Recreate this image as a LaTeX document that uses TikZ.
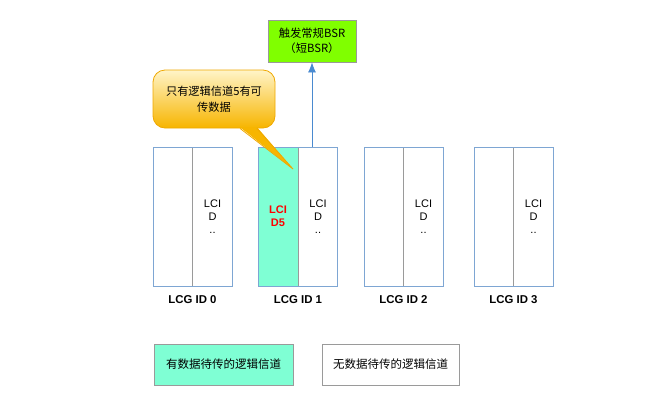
\documentclass[tikz,border=0pt]{standalone}
\usepackage{fontspec}
\setmainfont{Liberation Sans}
\newfontfamily\cjk{Noto Sans CJK SC}
\usetikzlibrary{arrows.meta,calc}
\definecolor{aqua}{HTML}{7FFFD4}
\definecolor{lime}{HTML}{80FF00}
\definecolor{boxblue}{HTML}{7EA6D3}
\definecolor{divgray}{HTML}{9A9A9A}
\definecolor{arrblue}{HTML}{4A8AD0}
\definecolor{calltop}{HTML}{FFF4C8}
\definecolor{callbot}{HTML}{F7B500}
\definecolor{callborder}{HTML}{EFA800}
\tikzset{
  lcgbox/.style={draw=boxblue, line width=0.8pt, minimum width=79pt, minimum height=139pt, inner sep=0pt,
    path picture={\draw[divgray, line width=0.8pt] (path picture bounding box.north) -- (path picture bounding box.south);}},
  lcgact/.style={lcgbox, path picture={
    \fill[aqua] (path picture bounding box.north west) rectangle (path picture bounding box.south);
    \draw[divgray, line width=0.8pt] (path picture bounding box.north) -- (path picture bounding box.south);}},
  lcitext/.style={align=center, font=\fontsize{11}{13}\selectfont, inner sep=0pt},
  lcglabel/.style={font=\bfseries\fontsize{11.4}{13}\selectfont, inner sep=0pt},
  legendbox/.style={draw=divgray, line width=0.8pt, minimum height=41pt, inner sep=0pt, font=\cjk\fontsize{11.5}{14}\selectfont},
}
\begin{document}
\begin{tikzpicture}[x=1pt,y=-1pt]
\useasboundingbox (0,0) rectangle (650,405);
% top box
\node[draw=divgray, fill=lime, line width=0.8pt, minimum width=88pt, minimum height=42pt, inner sep=0pt, align=center,
  font=\cjk\fontsize{11.3}{15}\selectfont] (bsr) at (312,41) {触发常规BSR\\（短BSR）};
% LCG boxes
\node[lcgbox] (b0) at (192.5,216.5) {};
\node[lcgact] (b1) at (298,216.5) {};
\node[lcgbox] (b2) at (403.5,216.5) {};
\node[lcgbox] (b3) at (513.5,216.5) {};
\foreach \i in {0,1,2,3}{
  \node[lcitext] (t\i) at ($(b\i.center)+(20,0)$) {LCI\\D\\..};
  \node[lcglabel] (l\i) at ($(b\i.south)+(0,13)$) {LCG ID \i};
}
\node[lcitext, text=red, font=\bfseries\fontsize{11}{13}\selectfont] (d5) at ($(b1.center)+(-20,0)$) {LCI\\D5};
% arrow
\draw[arrblue, line width=0.8pt, -{Latex[length=10pt,width=8pt]}] ($(b1.north)+(14,0)$) -- (bsr.south);
% callout
\node[draw=callborder, line width=0.8pt, rounded corners=12pt, top color=calltop, bottom color=callbot,
  minimum width=122pt, minimum height=58pt, inner sep=0pt, align=center,
  font=\cjk\fontsize{11.2}{16}\selectfont] (co) at (214,99) {只有逻辑信道5有可\\传数据};
\coordinate (tip) at (293,169);
\fill[callbot] ($(co.south)+(26,-1.2)$) -- (tip) -- ($(co.south)+(43,-1.2)$) -- cycle;
\draw[callborder, line width=0.8pt] ($(co.south)+(26,0)$) -- (tip) -- ($(co.south)+(43,0)$);
% legend
\node[legendbox, fill=aqua, minimum width=139pt] (lg1) at (223.5,364.5) {有数据待传的逻辑信道};
\node[legendbox, fill=white, minimum width=137pt] (lg2) at (390.5,364.5) {无数据待传的逻辑信道};
\end{tikzpicture}
\end{document}
